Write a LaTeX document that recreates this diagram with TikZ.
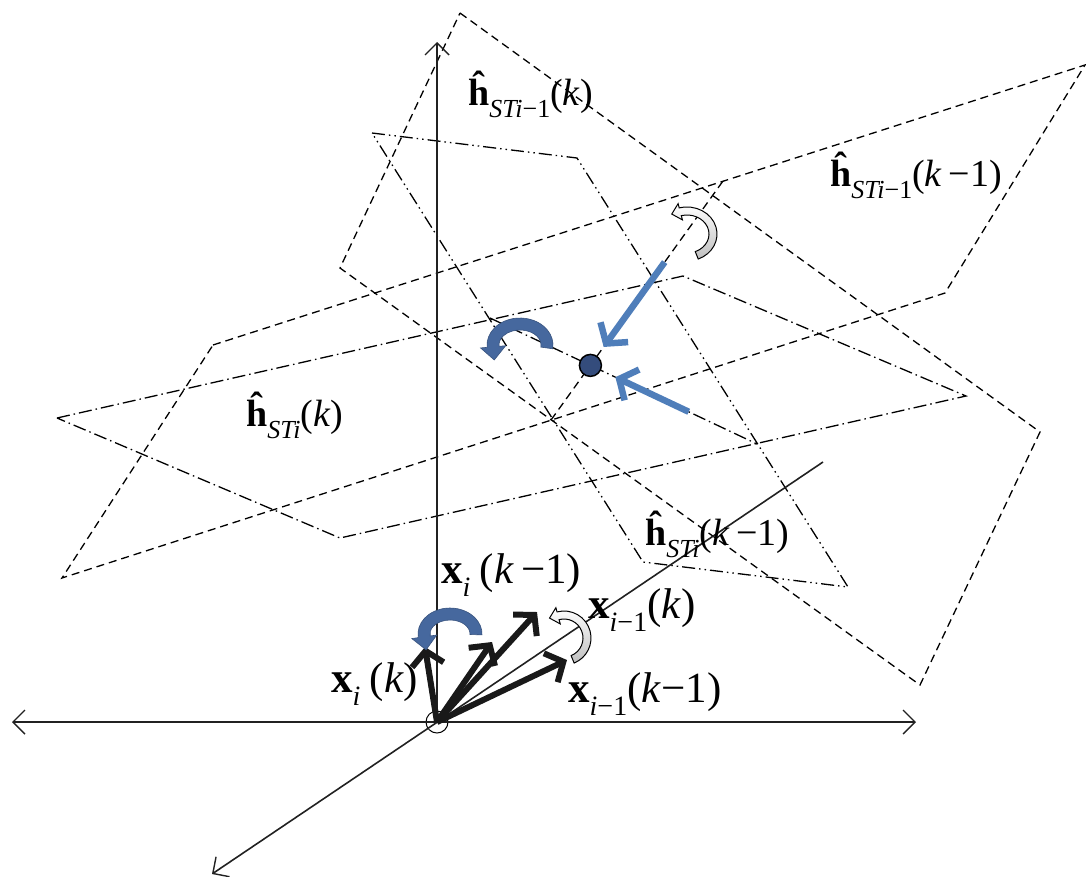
\documentclass[tikz,border=0pt]{standalone}
\usepackage{fontspec}
\setmainfont{LiberationSerif}[Extension=.ttf, UprightFont=*-Regular, BoldFont=*-Bold, ItalicFont=*-Italic, BoldItalicFont=*-BoldItalic]
\usetikzlibrary{arrows.meta,calc}

\definecolor{pullblue}{RGB}{79,126,186}
\definecolor{bendblue}{RGB}{70,104,158}
\definecolor{dotblue}{RGB}{52,76,124}

% curved block arrow: center, head angle, tail angle, x radius, y radius, band width, style
\newcommand{\bendarrow}[7]{%
  \pgfmathsetmacro\bwri{#4-#6}\pgfmathsetmacro\bwrj{#5-#6}%
  \pgfmathsetmacro\bwax{#4*cos(#2)}\pgfmathsetmacro\bway{#5*sin(#2)}%
  \pgfmathsetmacro\bwbx{\bwri*cos(#3)}\pgfmathsetmacro\bwby{\bwrj*sin(#3)}%
  \pgfmathsetmacro\bwcx{(#4-1.55*#6)*cos(#2)}\pgfmathsetmacro\bwcy{(#5-1.55*#6)*sin(#2)}%
  \pgfmathsetmacro\bwdx{(#4-0.5*#6)*cos(#2)+1.1*#6*sin(#2)}%
  \pgfmathsetmacro\bwdy{(#5-0.5*#6)*sin(#2)-1.1*#6*cos(#2)}%
  \pgfmathsetmacro\bwex{(#4+0.55*#6)*cos(#2)}\pgfmathsetmacro\bwey{(#5+0.55*#6)*sin(#2)}%
  \path[#7] ($(#1)+(\bwax,\bway)$) arc[start angle=#2, end angle=#3, x radius=#4, y radius=#5]
    -- ($(#1)+(\bwbx,\bwby)$) arc[start angle=#3, end angle=#2, x radius=\bwri, y radius=\bwrj]
    -- ($(#1)+(\bwcx,\bwcy)$) -- ($(#1)+(\bwdx,\bwdy)$) -- ($(#1)+(\bwex,\bwey)$) -- cycle;}

\newcommand{\hvec}[2]{\textbf{ĥ}\raisebox{-0.32em}{\fontsize{26}{26}\selectfont #1}(\textit{k}#2)}
\newcommand{\xvec}[2]{\textbf{x}\raisebox{-0.32em}{\fontsize{28}{28}\selectfont #1}(\textit{k}#2)}

\tikzset{
  axtip/.tip={Straight Barb[length=12pt,width=24pt,line width=1.4pt]},
  axis/.style={line width=1.6pt, black!87},
  dashA/.style={line width=1.3pt, dash pattern=on 8pt off 5pt},
  dashC/.style={line width=1.3pt, dash pattern=on 13pt off 4pt on 1.5pt off 4pt},
  dashD/.style={line width=1.3pt, dash pattern=on 13pt off 4pt on 1.5pt off 4pt on 1.5pt off 4pt},
  vec/.style={line width=6pt, black!90, -{Straight Barb[length=14pt,width=32pt]}},
  pull/.style={line width=6.5pt, pullblue, -{Straight Barb[length=14pt,width=34pt]}},
  hlbl/.style={inner sep=0pt, anchor=base west, font=\fontsize{38}{40}\selectfont},
  xlbl/.style={inner sep=0pt, anchor=base west, font=\fontsize{43}{46}\selectfont},
}

\begin{document}
\begin{tikzpicture}[x=1pt, y=-1pt]
  \useasboundingbox (0,0) rectangle (1086,876);
  % plane corners
  \coordinate (A1) at (460,13);  \coordinate (A2) at (1040,432);
  \coordinate (A3) at (920,685); \coordinate (A4) at (340,268);
  \coordinate (B1) at (213,345); \coordinate (B2) at (1085,65);
  \coordinate (B3) at (945,293); \coordinate (B4) at (62,578);
  \coordinate (C1) at (57,418);  \coordinate (C2) at (683,276);
  \coordinate (C3) at (966,396); \coordinate (C4) at (340,538);
  \coordinate (D1) at (372,133); \coordinate (D2) at (577,158);
  \coordinate (D3) at (848,587); \coordinate (D4) at (643,562);
  % planes
  \draw[dashA] (A1) -- (A2) -- (A3) -- (A4) -- cycle;
  \draw[dashA] (B1) -- (B2) -- (B3) -- (B4) -- cycle;
  \draw[dashC] (C1) -- (C2) -- (C3) -- (C4) -- cycle;
  \draw[dashD] (D1) -- (D2) -- (D3) -- (D4) -- cycle;
  % intersection lines and common point
  \coordinate (L1) at (551,420); \coordinate (L2) at (723,181);
  \coordinate (M1) at (490,318); \coordinate (M2) at (757,444);
  \draw[dashA] (L1) -- (L2);
  \draw[dashC] (M1) -- (M2);
  \node[circle, draw, fill=dotblue, line width=1.5pt, minimum size=22pt, inner sep=0pt]
    (hit) at (intersection of L1--L2 and M1--M2) {};
  \draw[pull] ($(L2)!0.44!(hit)$) -- ($(L2)!0.9!(hit)$);
  \draw[pull] ($(M2)!0.41!(hit)$) -- ($(M2)!0.85!(hit)$);
  % axes
  \node[circle, draw, line width=1pt, minimum size=22pt, inner sep=0pt] (O) at (437,722) {};
  \coordinate (zT) at (437,42);
  \coordinate (xL) at (12,722);  \coordinate (xR) at (916,722);
  \coordinate (yE) at (823,462); \coordinate (yS) at (212,874);
  \draw[axis, -axtip] (O.center) -- (zT);
  \draw[axis, axtip-axtip] (xL) -- (xR);
  \draw[axis, -axtip] (yE) -- (yS);
  % state vectors
  \coordinate (v1) at (425,647); \coordinate (v2) at (492,642);
  \coordinate (v3) at (537,612); \coordinate (v4) at (567,660);
  \foreach \v in {v1,v2,v3,v4}
    \draw[vec] (O.center) -- (\v);
  % turning arrows
  \coordinate (t1) at (450,634); \coordinate (t2) at (564,638);
  \coordinate (t3) at (520,345); \coordinate (t4) at (687,234);
  \bendarrow{t1}{-188}{2}{32}{26}{12}{fill=bendblue, draw=bendblue!80!black, line width=0.6pt}
  \bendarrow{t3}{-185}{8}{33}{27}{12}{fill=bendblue, draw=bendblue!80!black, line width=0.6pt}
  \bendarrow{t2}{-105}{68}{27}{27}{8}{top color=white, bottom color=black!25, draw=black, line width=1pt}
  \bendarrow{t4}{-105}{68}{30}{27}{8}{top color=white, bottom color=black!25, draw=black, line width=1pt}
  % labels
  \node[hlbl] (hA) at (468,105) {\hvec{\textit{STi}−1}{}};
  \node[hlbl] (hB) at (830,186) {\hvec{\textit{STi}−1}{\,−1}};
  \node[hlbl] (hC) at (246,426) {\hvec{\textit{STi}}{}};
  \node[hlbl] (hD) at (645,545) {\hvec{\textit{STi}}{\,−1}};
  \node[xlbl] (xa) at (441,583) {\xvec{\textit{i}\,\,}{\,−1}};
  \node[xlbl] (xb) at (588,618) {\xvec{\textit{i}−1}{}};
  \node[xlbl] (xc) at (331,692) {\xvec{\textit{i}\,\,}{}};
  \node[xlbl] (xd) at (568,702) {\xvec{\textit{i}−1}{−1}};
\end{tikzpicture}
\end{document}
